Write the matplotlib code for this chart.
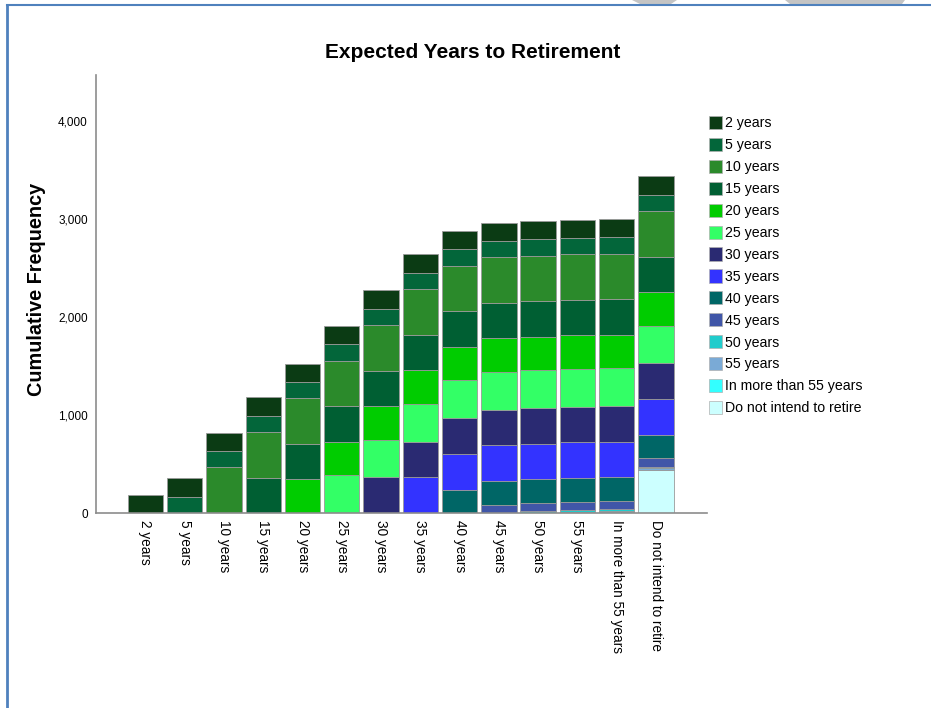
import matplotlib
matplotlib.use("Agg")
import matplotlib.pyplot as plt
from matplotlib.patches import Patch, Polygon
from matplotlib.lines import Line2D
import numpy as np

categories = ["2 years", "5 years", "10 years", "15 years", "20 years", "25 years",
              "30 years", "35 years", "40 years", "45 years", "50 years", "55 years",
              "In more than 55 years", "Do not intend to retire"]
frequencies = [188, 167, 467, 360, 345, 385, 365, 365, 240, 85, 18, 13, 7, 437]
colors = ["#0b3b14", "#03663a", "#2b8a2b", "#005f33", "#00cc00", "#33ff66",
          "#2a2a72", "#3333ff", "#006666", "#4056a8", "#20cccc", "#7aaad6",
          "#33ffff", "#ccffff"]
yticks = [0, 1000, 2000, 3000, 4000]

W, H = 931, 708
fig = plt.figure(figsize=(W / 100, H / 100), dpi=100)
fig.patch.set_facecolor("white")

ax = fig.add_axes([96 / W, 1 - 513 / H, (707 - 96) / W, (513 - 75) / H])
n = len(categories)
x = np.arange(n)
# Bar i contains categories 0..i; category i at the bottom, category 0 on top
for i in range(n):
    bottom = 0
    for j in range(i, -1, -1):
        ax.bar(x[i], frequencies[j], bottom=bottom, width=0.9, color=colors[j],
               edgecolor="#9a9a9a", linewidth=0.6)
        bottom += frequencies[j]

ax.set_xlim(-1.26, 14.3)
ax.set_ylim(0, 4475)
ax.set_yticks(yticks)
ax.set_yticklabels([f"{v:,}" for v in yticks], fontsize=8.5, family="Liberation Sans")
ax.tick_params(axis="y", length=0, pad=6)
ax.set_xticks(x)
ax.set_xticklabels(categories, rotation=270, fontsize=9.8, family="Liberation Sans",
                   va="top", ha="center")
ax.tick_params(axis="x", length=0, pad=5)
for s in ["top", "right"]:
    ax.spines[s].set_visible(False)
for s in ["left", "bottom"]:
    ax.spines[s].set_color("#8c8c8c")
    ax.spines[s].set_linewidth(1.2)

fig.text(473 / W, 1 - 53 / H, "Expected Years to Retirement", ha="center", va="center",
         fontsize=15, fontweight="bold", family="Liberation Sans")
fig.text(37 / W, 1 - 289 / H, "Cumulative Frequency", ha="center", va="center",
         rotation=90, fontsize=14.3, fontweight="bold", family="Liberation Sans")

handles = [Patch(facecolor=c, edgecolor="#b0b0b0", linewidth=0.5) for c in colors]
leg = fig.legend(handles, categories, loc="upper left",
                 bbox_to_anchor=(709 / W, 1 - 116 / H), frameon=False,
                 prop={"family": "Liberation Sans", "size": 10.2},
                 handlelength=0.9, handleheight=1.05, handletextpad=0.2,
                 labelspacing=0.53, borderaxespad=0, borderpad=0)

# page frame and background decoration
fig.add_artist(Line2D([7 / W, 7 / W], [0, 1 - 5 / H], color="#4f81bd", linewidth=2,
                      transform=fig.transFigure))
fig.add_artist(Line2D([7 / W, 1], [1 - 5 / H, 1 - 5 / H], color="#4f81bd", linewidth=1.5,
                      transform=fig.transFigure))
for pts in ([(632, 0), (677, 0), (671, 4), (640, 4)],
            [(785, 0), (905, 0), (902, 4), (790, 4)]):
    fig.add_artist(Polygon([(px / W, 1 - py / H) for px, py in pts], closed=True,
                           facecolor="#c4c4c4", edgecolor="none",
                           transform=fig.transFigure))

fig.savefig("out.png", dpi=100)
